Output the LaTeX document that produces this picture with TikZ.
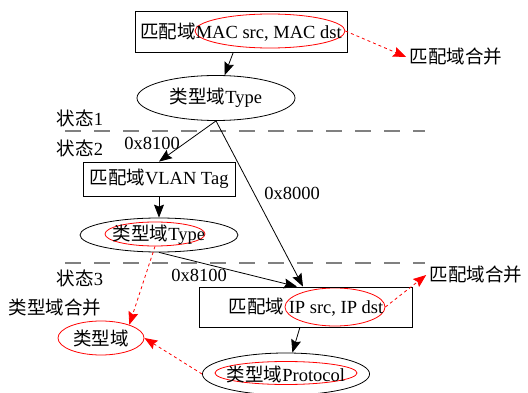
\documentclass[tikz,border=0pt]{standalone}
\usepackage{fontspec}
\setmainfont{Liberation Serif}
\newfontfamily\zhfont{Noto Sans CJK SC}
\newcommand\zh[1]{{\zhfont #1}}
\usetikzlibrary{shapes.geometric,arrows.meta}
\tikzset{
  field/.style={draw, rectangle, inner sep=0pt, line width=0.8pt},
  typefield/.style={draw, ellipse, inner sep=0pt, line width=0.8pt},
  ring/.style={draw=red, ellipse, inner sep=0pt, line width=0.8pt},
  flow/.style={-{Stealth[length=13pt,width=10pt,inset=2pt]}, line width=0.8pt},
  merge/.style={red, dashed, line width=0.8pt, -{Stealth[length=13pt,width=10pt,inset=2pt]}},
  stateline/.style={gray, line width=1.2pt, dash pattern=on 16pt off 13pt},
}
\begin{document}
\begin{tikzpicture}[x=1pt,y=-1pt,font=\fontsize{18.5}{20}\selectfont]
\useasboundingbox (0,0) rectangle (528,393);

% state separators
\draw[stateline] (65,131) -- (425,131);
\draw[stateline] (65,263) -- (425,263);
\node (s1) at (80,118) {\zh{状态}1};
\node (s2) at (80,148) {\zh{状态}2};
\node (s3) at (80,278) {\zh{状态}3};

% state 1
\node[ring, minimum width=150, minimum height=34] (macring) at (270,31) {};
\node[field, minimum width=212, minimum height=41] (mac) at (241,32) {\zh{匹配域}MAC src, MAC dst};
\node (mergeA) at (456,57) {\zh{匹配域合并}};
\node[typefield, minimum width=158, minimum height=45] (type1) at (216,98) {\zh{类型域}Type};

% state 2
\node[field, minimum width=152, minimum height=34] (vlan) at (159,179) {\zh{匹配域}VLAN Tag};
\node[ring, minimum width=100, minimum height=24] (type2ring) at (155,234) {};
\node[typefield, minimum width=158, minimum height=34] (type2) at (159,235) {\zh{类型域}Type};

% state 3
\node[ring, minimum width=100, minimum height=38] (ipring) at (335,307) {};
\node[field, minimum width=213, minimum height=40] (ip) at (306,307) {\zh{匹配域} IP src, IP dst};
\node (mergeB) at (476,275) {\zh{匹配域合并}};
\node[ring, minimum width=142, minimum height=23] (protoring) at (286,373) {};
\node[typefield, minimum width=162, minimum height=42] (proto) at (286,374) {\zh{类型域}Protocol};
\node (typemerge) at (55,308) {\zh{类型域合并}};
\node[ring, minimum width=86, minimum height=34] (typeset) at (101,338) {\zh{类型域}};

% labels on the edges
\node (e1) at (152,143) {0x8100};
\node (e2) at (292,193) {0x8000};
\node (e3) at (199,275) {0x8100};

\draw[flow] (mac) -- (type1);
\draw[flow] (type1.south) -- (vlan.north);
\draw[flow] (type1.south) -- ([xshift=-3pt]ip.north);
\draw[flow] (vlan) -- (type2);
\draw[flow] (type2.south) -- ([xshift=-9pt]ip.north);
\draw[flow] (ip) -- (proto);

\draw[merge] (macring.east) -- (mergeA.west);
\draw[merge] (ipring.east) -- (mergeB.west);
\draw[merge] (type2ring.south) -- (typeset.25);
\draw[merge] (proto.west) -- (typeset.east);
\end{tikzpicture}
\end{document}
